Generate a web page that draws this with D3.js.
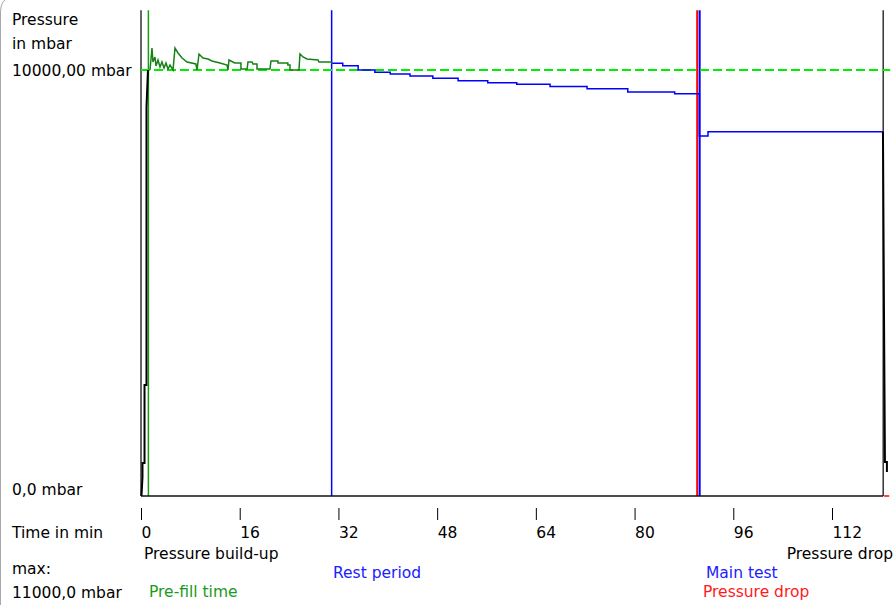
<!DOCTYPE html>
<html>
<head>
<meta charset="utf-8">
<script src="https://cdn.jsdelivr.net/npm/d3@7"></script>
<style>
  body { margin: 0; background: #fff; }
  text { font-family: "DejaVu Sans", sans-serif; font-size: 15.5px; }
</style>
</head>
<body>
<div id="chart"></div>
<script>
// Tick labels on the time axis (minutes)
const tickMinutes = [0, 16, 32, 48, 64, 80, 96, 112];

// Phase markers (minutes)
const preFillStart = 1.2;
const restStart = 30.9;
const pressureDropStart = 90.15;
const mainTestStart = 90.55;
const endMinute = 120.3;

// Set pressure (mbar)
const setPressure = 10000;

// Pressure build-up (black)
const buildUpMin  = [0.08, 0.24, 0.24, 0.57, 0.57, 0.89, 0.89, 1.13];
const buildUpMbar = [0, 446, 775, 775, 2606, 2606, 9131, 10000];

// Pre-fill time (green)
const preFillMin  = [1.46, 1.78, 1.94, 2.27, 2.43, 2.76, 3.08, 3.40, 3.73, 4.05, 4.38, 4.70, 5.19,
                     5.51, 6.0, 6.65, 7.46, 8.9, 9.08, 9.40, 10.05, 10.86, 11.5, 12.8, 13.94, 14.1,
                     14.26, 15.2, 16.2, 16.2, 17.2, 17.34, 18.0, 18.15, 18.8, 18.8, 20.9, 21.07,
                     22.2, 22.2, 23.8, 23.8, 24.15, 24.15, 25.6, 25.77, 26.26, 26.9, 28.7, 28.85,
                     30.8, 31.0];
const preFillMbar = [10000, 10516, 10188, 10305, 10094, 10235, 10070, 10188, 10047, 10164, 10023, 10117, 10000,
                     10516, 10399, 10282, 10188, 10141, 10000, 10375, 10282, 10258, 10211, 10164, 10117, 10000,
                     10235, 10164, 10164, 10023, 10023, 10188, 10188, 10141, 10141, 10023, 10023, 10211,
                     10211, 10164, 10164, 10117, 10117, 10000, 10000, 10375, 10305, 10258, 10235, 10188,
                     10188, 10160];

// Rest period (blue, stepped)
const restMin  = [31.0, 32.7, 35.2, 37.9, 40.4, 43.6, 47.3, 51.4, 56.2, 60.9, 66.3, 72.3, 78.9, 86.5, 90.5];
const restMbar = [10160, 10100, 10000, 9950, 9905, 9860, 9805, 9750, 9700, 9665, 9610, 9560, 9485, 9445, 9445];

// Main test (blue, stepped)
const testMin  = [90.5, 90.5, 91.9, 120.3];
const testMbar = [9445, 8450, 8550, 8550];

// Pressure drop (black)
const dropMin  = [120.26, 120.42, 120.58, 120.9, 120.9];
const dropMbar = [8552, 4437, 798, 798, 563];

const W = 895, H = 605;
const svg = d3.select("#chart").append("svg")
  .attr("width", W).attr("height", H);

const x = d3.scaleLinear().domain([0, 112]).range([141, 832]);
const y = d3.scaleLinear().domain([0, 10000]).range([496, 70]);
const yTop = 11400;

// window border (left edge with rounded corner)
svg.append("path")
  .attr("d", "M0.5,605 L0.5,12 Q0.5,1 8,-2")
  .attr("fill", "none").attr("stroke", "#a8a8a8");

const line = d3.line().x(d => x(d[0])).y(d => y(d[1]));
const zipped = (a, b) => a.map((v, i) => [v, b[i]]);

// frame
svg.append("line")
  .attr("x1", x(0)).attr("x2", x(0)).attr("y1", y(yTop)).attr("y2", y(0))
  .attr("stroke", "#333").attr("stroke-width", 1.5);
svg.append("line")
  .attr("x1", x(endMinute)).attr("x2", x(endMinute)).attr("y1", y(yTop)).attr("y2", y(0))
  .attr("stroke", "#333").attr("stroke-width", 1.5);

// phase markers
const marks = [
  { t: preFillStart, color: "#1a9a1a", w: 1.5 },
  { t: restStart, color: "#0000ff", w: 1.5 },
  { t: pressureDropStart, color: "#ff0000", w: 2 },
  { t: mainTestStart, color: "#0000ff", w: 2 }
];
svg.selectAll(".mark").data(marks).enter().append("line")
  .attr("x1", d => x(d.t)).attr("x2", d => x(d.t))
  .attr("y1", y(yTop)).attr("y2", y(0))
  .attr("stroke", d => d.color).attr("stroke-width", d => d.w);

// set pressure dashed line
svg.append("line")
  .attr("x1", x(0)).attr("x2", x(endMinute) + 7)
  .attr("y1", y(setPressure)).attr("y2", y(setPressure))
  .attr("stroke", "#00ee00").attr("stroke-width", 2)
  .attr("stroke-dasharray", "9,4");

// traces
svg.append("path").attr("d", line(zipped(buildUpMin, buildUpMbar)))
  .attr("fill", "none").attr("stroke", "#000").attr("stroke-width", 2);
svg.append("path").attr("d", line(zipped(preFillMin, preFillMbar)))
  .attr("fill", "none").attr("stroke", "#178017").attr("stroke-width", 1.5);
svg.append("path").attr("d", line.curve(d3.curveStepAfter)(zipped(restMin, restMbar)))
  .attr("fill", "none").attr("stroke", "#0000ff").attr("stroke-width", 1.5);
svg.append("path").attr("d", line.curve(d3.curveStepAfter)(zipped(testMin, testMbar)))
  .attr("fill", "none").attr("stroke", "#0000ff").attr("stroke-width", 1.5);
line.curve(d3.curveLinear);
svg.append("path").attr("d", line(zipped(dropMin, dropMbar)))
  .attr("fill", "none").attr("stroke", "#000").attr("stroke-width", 2);

// bottom axis line
svg.append("line")
  .attr("x1", x(0)).attr("x2", x(endMinute)).attr("y1", y(0)).attr("y2", y(0))
  .attr("stroke", "#111").attr("stroke-width", 1.5);
svg.append("line")
  .attr("x1", x(endMinute) + 1).attr("x2", x(endMinute) + 6).attr("y1", y(0)).attr("y2", y(0))
  .attr("stroke", "#ff0000").attr("stroke-width", 1.5);

// time ticks
const axis = svg.append("g")
  .attr("transform", "translate(0,508)")
  .call(d3.axisBottom(x).tickValues(tickMinutes).tickSize(12).tickFormat(d3.format("d")));
axis.select(".domain").remove();
axis.selectAll(".tick line").attr("stroke", "#000");
axis.selectAll(".tick text")
  .attr("text-anchor", "start").attr("x", 0).attr("y", 30).attr("dy", null)
  .attr("fill", "#000")
  .style("font-family", "DejaVu Sans, sans-serif").style("font-size", "15.5px");

// labels
const labels = [
  { s: "Pressure", x: 12, y: 25, c: "#000" },
  { s: "in mbar", x: 12, y: 49, c: "#000" },
  { s: "10000,00 mbar", x: 12, y: 76, c: "#000" },
  { s: "0,0 mbar", x: 12, y: 495, c: "#000" },
  { s: "Time in min", x: 12, y: 538, c: "#000" },
  { s: "max:", x: 12, y: 574, c: "#000" },
  { s: "11000,0 mbar", x: 12, y: 598, c: "#000" },
  { s: "Pressure build-up", x: 144, y: 559, c: "#000" },
  { s: "Pressure drop", x: 893, y: 559, c: "#000", a: "end" },
  { s: "Rest period", x: 333, y: 578, c: "#2020ff" },
  { s: "Main test", x: 706, y: 578, c: "#2020ff" },
  { s: "Pre-fill time", x: 149, y: 597, c: "#1a9a1a" },
  { s: "Pressure drop", x: 703, y: 597, c: "#ff1a1a" }
];
svg.selectAll(".lbl").data(labels).enter().append("text")
  .attr("x", d => d.x).attr("y", d => d.y)
  .attr("text-anchor", d => d.a || "start")
  .attr("fill", d => d.c)
  .text(d => d.s);
</script>
</body>
</html>
